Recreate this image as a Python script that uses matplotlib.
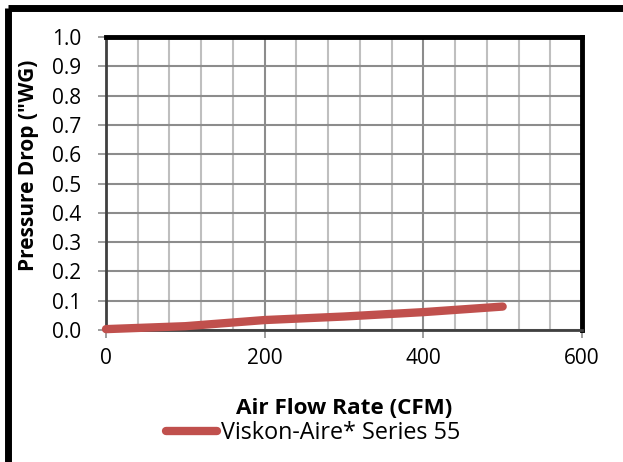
import matplotlib
matplotlib.use("Agg")
import matplotlib.pyplot as plt
from matplotlib.lines import Line2D
import numpy as np

flow = [0, 100, 200, 300, 400, 500]
pressure = [0.003, 0.013, 0.034, 0.046, 0.061, 0.080]
series_name = "Viskon-Aire* Series 55"
x_ticks = [0, 200, 400, 600]
y_ticks = [round(0.1 * i, 1) for i in range(11)]

plt.rcParams['font.family'] = ['Open Sans', 'DejaVu Sans']

W, H = 623, 462
L, R, T, B = 106, 582, 37, 330
fig = plt.figure(figsize=(W/100, H/100), dpi=100)
ax = fig.add_axes([L/W, 1 - B/H, (R-L)/W, (B-T)/H])

ax.set_xlim(0, 600)
ax.set_ylim(0, 1.0)
ax.set_xticks(x_ticks)
ax.set_xticks(np.arange(0, 601, 40), minor=True)
ax.set_yticks(y_ticks)
ax.set_yticklabels([f"{v:.1f}" for v in y_ticks])

ax.grid(which='minor', axis='x', color='#BFBFBF', linewidth=1.5)
ax.grid(which='major', axis='x', color='#8C8C8C', linewidth=1.5)
ax.grid(which='major', axis='y', color='#8C8C8C', linewidth=1.5)
ax.set_axisbelow(True)

ax.plot(flow, pressure, color='#C0504D', linewidth=6, solid_capstyle='round',
        solid_joinstyle='round', label=series_name, zorder=3, clip_on=False)

for side in ['top', 'right']:
    ax.spines[side].set_color('black')
    ax.spines[side].set_linewidth(3.5)
for side in ['left', 'bottom']:
    ax.spines[side].set_color('#404040')
    ax.spines[side].set_linewidth(2)

ax.tick_params(axis='both', which='major', direction='out', length=6, width=1.2,
               color='#8C8C8C', labelsize=15)
ax.tick_params(axis='x', which='major', pad=7)
ax.tick_params(axis='y', which='major', pad=12)
ax.tick_params(axis='both', which='minor', length=0)

ax.set_xlabel('Air Flow Rate (CFM)', fontsize=16.2, fontweight='bold', va='center')
ax.xaxis.set_label_coords(0.5, -(408 - B) / (B - T))
ax.set_ylabel('Pressure Drop ("WG)', fontsize=15, fontweight='bold', va='center')
ax.yaxis.set_label_coords(-(L - 29) / (R - L), (B - 165) / (B - T))

handle = Line2D([0], [0], color='#C0504D', linewidth=6, solid_capstyle='round')
fig.legend([handle], [series_name], loc='center', bbox_to_anchor=(313/W, 1 - 433/H),
           frameon=False, fontsize=16.8, handlelength=2.2, handletextpad=0.15,
           borderaxespad=0, borderpad=0)

# outer frame (top and left visible, extends beyond the image)
fig.add_artist(Line2D([8/W, 8/W], [0, 1 - 8/H], transform=fig.transFigure,
                      color='black', linewidth=5, solid_capstyle='butt'))
fig.add_artist(Line2D([8/W, 1], [1 - 8/H, 1 - 8/H], transform=fig.transFigure,
                      color='black', linewidth=5, solid_capstyle='butt'))

fig.savefig('out.png', dpi=100)
